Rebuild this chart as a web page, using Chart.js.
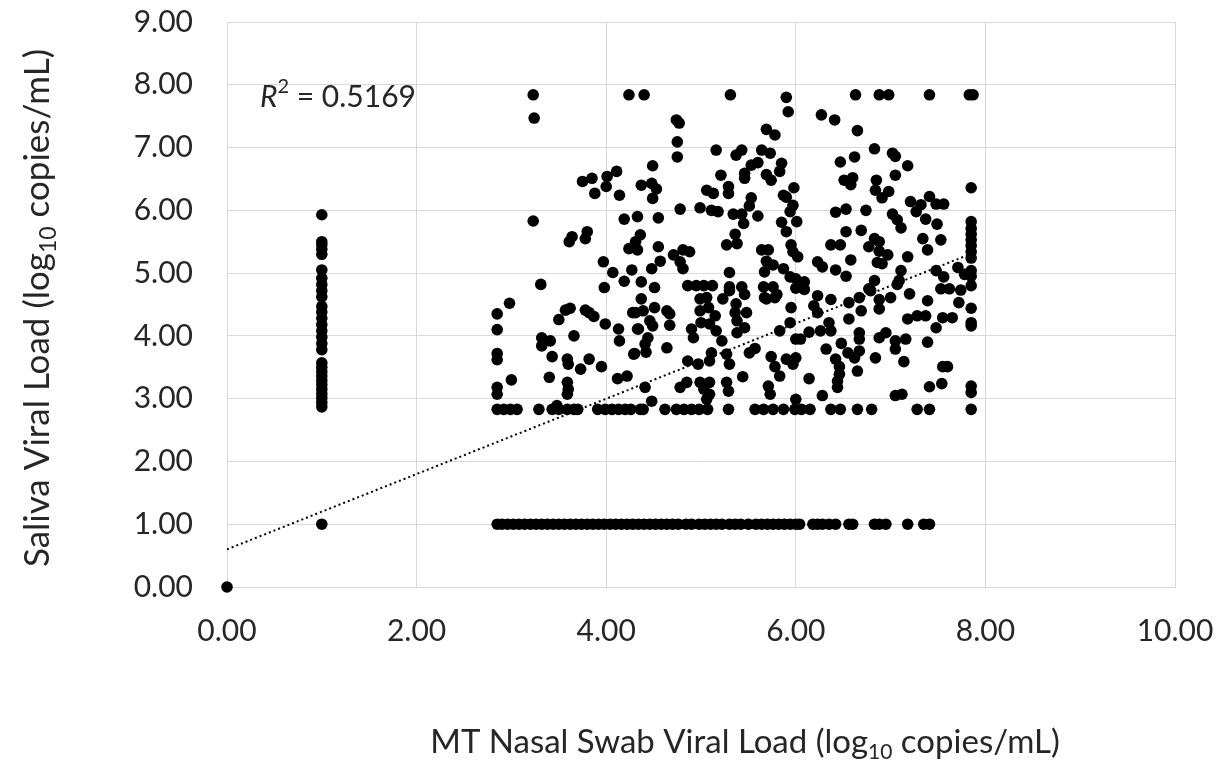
<!DOCTYPE html>
<html>
<head>
<meta charset="utf-8">
<script src="https://cdn.jsdelivr.net/npm/chart.js@4.4.1/dist/chart.umd.min.js"></script>
<style>
  html, body { margin: 0; padding: 0; background: #fff; }
  #wrap { width: 1225px; height: 766px; }
</style>
</head>
<body>
<div id="wrap"><canvas id="scatterChart"></canvas></div>
<script>
// MT nasal swab vs saliva viral load (log10 copies/mL)

// samples with nasal = 1.00 (not detected in nasal swab)
const col1Saliva = [5.93, 5.50, 5.45, 5.38, 5.30, 5.05, 4.92, 4.82, 4.72, 4.62, 4.47, 4.38, 4.28,
    4.18, 4.08, 3.98, 3.88, 3.78, 3.57, 3.50, 3.43, 3.36, 3.29, 3.22, 3.15, 3.08, 3.01, 2.94, 2.87, 1.00];

// samples with saliva = 1.00
const negRowNasal = [2.85, 2.90, 2.96, 3.02, 3.08, 3.14, 3.20, 3.26, 3.32, 3.38, 3.44, 3.50, 3.56,
    3.62, 3.68, 3.74, 3.80, 3.86, 3.92, 3.98, 4.04, 4.10, 4.16, 4.22, 4.28, 4.34, 4.40, 4.46, 4.52,
    4.58, 4.64, 4.70, 4.76, 4.84, 4.90, 4.98, 5.04, 5.10, 5.16, 5.22, 5.30, 5.36, 5.42, 5.50, 5.58,
    5.64, 5.70, 5.76, 5.82, 5.88, 5.94, 6.00, 6.04, 6.18, 6.23, 6.28, 6.35, 6.42, 6.56, 6.60, 6.83,
    6.88, 6.95, 7.18, 7.35, 7.41];

// samples at the saliva lower limit (2.83)
const floorRowNasal = [2.85, 2.92, 2.99, 3.06, 3.29, 3.43, 3.50, 3.59, 3.66, 3.70, 3.91, 3.99, 4.06,
    4.13, 4.20, 4.26, 4.36, 4.39, 4.62, 4.74, 4.82, 4.90, 4.98, 5.07, 5.29, 5.57, 5.66, 5.76, 5.87,
    5.99, 6.06, 6.15, 6.37, 6.47, 6.65, 6.80, 7.28, 7.41, 7.85];

// remaining samples [nasal, saliva]
const cloud = [
    [0.00, 0.00],
    [3.23, 7.84], [3.24, 7.47], [4.24, 7.84], [3.75, 6.46], [3.85, 6.51], [3.88, 6.27], [4.01, 6.54],
    [4.11, 6.62], [4.00, 6.38], [4.14, 6.24], [3.23, 5.83], [4.19, 5.86], [4.33, 5.90], [3.61, 5.50],
    [3.64, 5.58], [3.78, 5.55], [3.80, 5.66], [4.24, 5.39], [4.31, 5.50], [4.33, 5.37], [3.97, 5.18],
    [4.07, 5.01], [4.27, 5.05], [4.19, 4.87], [3.98, 4.77], [3.31, 4.82],
    [2.98, 4.52], [2.85, 4.35], [2.85, 4.10], [2.85, 3.72], [2.85, 3.62], [2.85, 3.18], [2.85, 3.07],
    [3.00, 3.30], [3.50, 4.26], [3.57, 4.41], [3.62, 4.44], [3.78, 4.41], [3.82, 4.37], [3.87, 4.31],
    [3.99, 4.19], [4.13, 4.11], [4.14, 3.92], [4.31, 4.37], [4.33, 4.11], [4.29, 3.71], [3.32, 3.97],
    [3.41, 3.92], [3.32, 3.84], [3.66, 4.00], [3.43, 3.67], [3.59, 3.63], [3.60, 3.55], [3.73, 3.47],
    [3.82, 3.63], [3.95, 3.51], [3.40, 3.34], [3.59, 3.26], [3.60, 3.15], [3.59, 3.07], [3.48, 2.89],
    [4.12, 3.32], [4.22, 3.36],
    [4.40, 7.84], [5.31, 7.84], [5.90, 7.80], [5.92, 7.57], [4.74, 7.44], [4.77, 7.39], [4.75, 7.09],
    [4.75, 6.85], [5.69, 7.29], [5.78, 7.20], [4.49, 6.71], [5.16, 6.96], [5.37, 6.88], [5.43, 6.96],
    [5.64, 6.96], [5.73, 6.91], [5.53, 6.72], [5.60, 6.76], [5.46, 6.59], [5.46, 6.51], [5.85, 6.75],
    [5.83, 6.62], [5.69, 6.57], [5.74, 6.48], [5.21, 6.56], [4.37, 6.40], [4.48, 6.43], [4.53, 6.34],
    [4.49, 6.19], [5.06, 6.32], [5.13, 6.27], [5.29, 6.38], [5.29, 6.27], [5.98, 6.36], [5.87, 6.24],
    [5.90, 6.21], [5.53, 6.20], [5.51, 6.07], [5.60, 5.91], [5.34, 5.94], [5.43, 5.94], [5.45, 5.79],
    [4.78, 6.02], [4.99, 6.04], [5.11, 6.00], [5.18, 5.98], [4.55, 5.88], [5.97, 6.08], [5.94, 5.98],
    [5.85, 5.81], [6.01, 5.82], [5.90, 5.66], [4.36, 5.61], [4.55, 5.42], [5.36, 5.62], [5.27, 5.45],
    [5.38, 5.47], [5.64, 5.37], [5.71, 5.37], [5.95, 5.45], [5.97, 5.34], [4.71, 5.29], [4.81, 5.37],
    [4.88, 5.34], [4.78, 5.18], [4.81, 5.07], [4.57, 5.19], [4.48, 5.07], [5.69, 5.19], [5.76, 5.13],
    [5.87, 5.07], [5.67, 5.02], [5.94, 4.94], [5.30, 5.01], [4.37, 4.86], [4.51, 4.77], [4.86, 4.80],
    [4.95, 4.80], [5.03, 4.80], [5.12, 4.80], [5.30, 4.78], [5.43, 4.78], [5.66, 4.78], [5.76, 4.78],
    [6.00, 4.76],
    [5.30, 4.72], [5.46, 4.66], [5.69, 4.59], [5.80, 4.66], [4.37, 4.59], [4.28, 4.37], [4.39, 4.40],
    [4.51, 4.45], [4.64, 4.40], [4.67, 4.35], [4.46, 4.24], [4.49, 4.16], [4.34, 4.11], [4.67, 4.17],
    [4.44, 3.97], [4.41, 3.87], [4.30, 3.72], [4.42, 3.74], [4.64, 3.81], [4.99, 4.59], [5.06, 4.61],
    [4.99, 4.40], [5.08, 4.45], [5.15, 4.32], [5.00, 4.21], [5.09, 4.19], [5.16, 4.08], [5.22, 3.92],
    [4.90, 4.11], [4.92, 3.97], [5.23, 4.59], [5.37, 4.51], [5.36, 4.37], [5.48, 4.37], [5.38, 4.24],
    [5.46, 4.13], [5.38, 4.05], [5.67, 4.61], [5.78, 4.61], [5.95, 4.45], [5.94, 4.21], [5.83, 4.08],
    [6.00, 3.95], [5.11, 3.73], [5.09, 3.60], [4.86, 3.60], [4.97, 3.55], [5.27, 3.71], [5.30, 3.55],
    [5.51, 3.73], [5.57, 3.80], [5.74, 3.67], [5.78, 3.51], [5.83, 3.36], [5.90, 3.63], [5.97, 3.55],
    [5.44, 3.35], [5.27, 3.26], [5.29, 3.12], [4.78, 3.18], [4.85, 3.26], [4.99, 3.26], [5.09, 3.26],
    [5.03, 3.15], [5.09, 3.07], [5.06, 2.99], [5.71, 3.20], [5.73, 3.07], [4.41, 3.18], [4.48, 2.96],
    [6.63, 7.84], [6.88, 7.84], [6.98, 7.84], [7.41, 7.84], [7.83, 7.84], [7.87, 7.84], [6.27, 7.52],
    [6.41, 7.44], [6.65, 7.27], [6.83, 6.98], [7.02, 6.91], [7.05, 6.86], [7.18, 6.71], [6.47, 6.77],
    [6.62, 6.85], [6.51, 6.48], [6.60, 6.52], [6.58, 6.41], [6.85, 6.48], [6.84, 6.32], [7.05, 6.56],
    [6.98, 6.30], [6.91, 6.20], [7.85, 6.36], [7.21, 6.14], [7.32, 6.09], [7.41, 6.22], [7.48, 6.10],
    [7.56, 6.10], [7.27, 5.98], [7.37, 5.86], [7.49, 5.78], [6.42, 5.97], [6.53, 6.02], [6.74, 6.00],
    [7.02, 5.94], [7.07, 5.85], [7.11, 5.72], [7.85, 5.82], [7.85, 5.71], [7.85, 5.62], [7.85, 5.53],
    [7.85, 5.44], [7.85, 5.34], [7.85, 5.24], [7.85, 5.04], [7.85, 4.95], [7.85, 4.80], [6.53, 5.66],
    [6.69, 5.68], [6.37, 5.45], [6.47, 5.45], [6.77, 5.42], [6.83, 5.55], [6.88, 5.50], [6.88, 5.35],
    [6.97, 5.29], [6.86, 5.17], [6.91, 5.15], [7.34, 5.55], [7.39, 5.37], [7.53, 5.53], [6.58, 5.21],
    [7.18, 5.26], [6.23, 5.18], [6.28, 5.10], [6.42, 5.05], [6.53, 4.95], [6.02, 5.26], [6.00, 4.91],
    [6.09, 4.86], [7.11, 5.04], [7.09, 4.88], [7.48, 5.04], [7.71, 5.09], [7.78, 4.98], [7.56, 4.94],
    [6.83, 4.88], [6.77, 4.75], [7.53, 4.75], [7.62, 4.75], [7.74, 4.73], [7.20, 4.67],
    [6.09, 4.74], [6.23, 4.64], [6.37, 4.58], [6.19, 4.48], [6.23, 4.37], [6.56, 4.53], [6.67, 4.61],
    [6.69, 4.40], [6.79, 4.72], [6.88, 4.58], [6.88, 4.43], [7.00, 4.61], [7.07, 4.82], [7.39, 4.56],
    [7.72, 4.53], [7.85, 4.44], [7.85, 4.21], [7.85, 4.16], [7.18, 4.27], [7.28, 4.32], [7.37, 4.32],
    [7.55, 4.29], [7.65, 4.29], [7.48, 4.13], [6.05, 3.95], [6.14, 4.06], [6.26, 4.08], [6.35, 4.21],
    [6.37, 4.08], [6.56, 4.27], [6.67, 4.05], [6.67, 3.95], [6.88, 3.97], [6.95, 4.05], [7.05, 3.92],
    [7.05, 3.79], [7.16, 3.95], [7.39, 3.90], [6.32, 3.79], [6.48, 3.88], [6.55, 3.73], [6.62, 3.65],
    [6.67, 3.76], [6.42, 3.63], [6.46, 3.51], [6.46, 3.39], [6.44, 3.28], [6.44, 3.18], [6.65, 3.44],
    [6.84, 3.65], [7.14, 3.59], [6.00, 3.65], [6.14, 3.32], [6.28, 3.05], [6.00, 2.99], [7.05, 3.05],
    [7.12, 3.07], [7.41, 3.19], [7.54, 3.24], [7.55, 3.51], [7.60, 3.51], [7.85, 3.20], [7.85, 3.10]
];

// linear trendline end points
const trendNasal = [0.00, 7.87];
const trendSaliva = [0.60, 5.32];
const rSquared = '0.5169';

const FONT = 'Lato, "Open Sans", sans-serif';
const TEXT_COLOR = '#262626';
const GRID_COLOR = '#d9d9d9';

function buildPoints() {
    const pts = [];
    col1Saliva.forEach(v => pts.push({ x: 1.00, y: v }));
    negRowNasal.forEach(v => pts.push({ x: v, y: 1.00 }));
    floorRowNasal.forEach(v => pts.push({ x: v, y: 2.83 }));
    cloud.forEach(p => pts.push({ x: p[0], y: p[1] }));
    return pts;
}

// draw a line of text made of runs, some of them sub/superscript
function drawRuns(ctx, runs, size, cx, cy, align) {
    const parts = runs.map(r => {
        const s = r.sub || r.sup ? Math.round(size * 0.65) : size;
        const font = (r.italic ? 'italic ' : '') + s + 'px ' + FONT;
        ctx.font = font;
        return { text: r.t, font: font, w: ctx.measureText(r.t).width, dy: r.sub ? size * 0.3 : (r.sup ? -size * 0.35 : 0) };
    });
    const total = parts.reduce((a, p) => a + p.w, 0);
    let x = align === 'left' ? cx : cx - total / 2;
    ctx.textBaseline = 'middle';
    ctx.textAlign = 'left';
    parts.forEach(p => {
        ctx.font = p.font;
        ctx.fillText(p.text, x, cy + p.dy);
        x += p.w;
    });
}

const textPlugin = {
    id: 'textPlugin',
    afterDraw(chart) {
        const ctx = chart.ctx;
        ctx.save();
        ctx.fillStyle = TEXT_COLOR;
        // x axis title
        drawRuns(ctx, [{ t: 'MT Nasal Swab Viral Load (log' }, { t: '10', sub: true }, { t: ' copies/mL)' }],
            33, 745, 742, 'center');
        // y axis title
        ctx.save();
        ctx.translate(38, 308);
        ctx.rotate(-Math.PI / 2);
        drawRuns(ctx, [{ t: 'Saliva Viral Load (log' }, { t: '10', sub: true }, { t: ' copies/mL)' }],
            35, 0, 0, 'center');
        ctx.restore();
        // R squared label
        drawRuns(ctx, [{ t: 'R', italic: true }, { t: '2', sup: true }, { t: ' = ' + rSquared }],
            30, 260, 97, 'left');
        ctx.restore();
    }
};

const ctx = document.getElementById('scatterChart');
new Chart(ctx, {
    type: 'scatter',
    data: {
        datasets: [
            {
                type: 'line',
                label: 'Linear trend',
                data: trendNasal.map((x, i) => ({ x: x, y: trendSaliva[i] })),
                borderColor: '#000',
                borderWidth: 2,
                borderDash: [2, 3],
                pointRadius: 0,
                fill: false,
                order: 0
            },
            {
                label: 'Samples',
                data: buildPoints(),
                backgroundColor: '#000',
                borderColor: '#000',
                borderWidth: 0,
                pointRadius: 5.8,
                pointHoverRadius: 5.8,
                clip: false,
                order: 1
            }
        ]
    },
    options: {
        responsive: true,
        maintainAspectRatio: false,
        animation: false,
        layout: { padding: { top: 22, right: 50, left: 0, bottom: 0 } },
        plugins: {
            legend: { display: false },
            tooltip: { enabled: false }
        },
        scales: {
            x: {
                type: 'linear',
                min: 0,
                max: 10,
                ticks: {
                    stepSize: 2,
                    padding: 26,
                    color: TEXT_COLOR,
                    font: { family: FONT, size: 30 },
                    callback: v => v.toFixed(2)
                },
                grid: { color: GRID_COLOR, drawTicks: false },
                border: { color: GRID_COLOR },
                afterFit: s => { s.height = 179; s.paddingLeft = 0; s.paddingRight = 0; }
            },
            y: {
                type: 'linear',
                min: 0,
                max: 9,
                ticks: {
                    stepSize: 1,
                    padding: 34,
                    color: TEXT_COLOR,
                    font: { family: FONT, size: 30 },
                    callback: v => v.toFixed(2)
                },
                grid: { color: GRID_COLOR, drawTicks: false },
                border: { color: GRID_COLOR },
                afterFit: s => { s.width = 227; s.paddingTop = 0; s.paddingBottom = 0; }
            }
        }
    },
    plugins: [textPlugin]
});
</script>
</body>
</html>
